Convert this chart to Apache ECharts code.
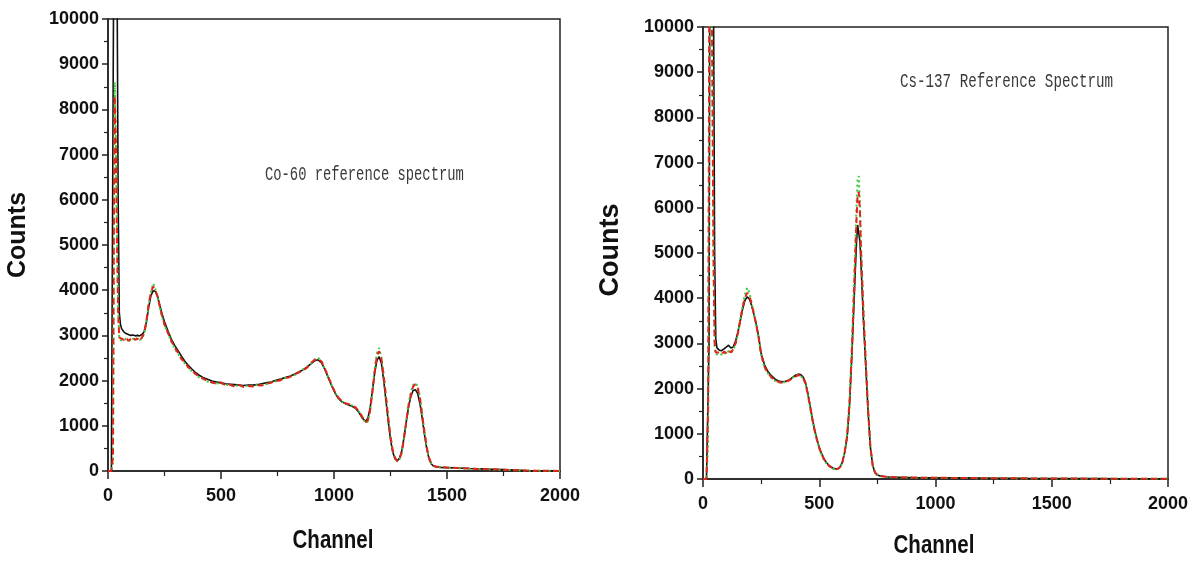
<!DOCTYPE html>
<html>
<head>
<meta charset="utf-8">
<script src="https://cdn.jsdelivr.net/npm/echarts@6/dist/echarts.min.js"></script>
<style>
html,body{margin:0;padding:0;background:#fff;}
#chart{width:1197px;height:563px;}
</style>
</head>
<body>
<div id="chart"></div>
<script>
// ---------- Co-60 reference spectrum (left panel) ----------
const coChannels = [
  0, 15, 22, 26, 30, 35, 40, 45, 50, 55,
  60, 70, 80, 90, 100, 110, 120, 130, 140, 150,
  160, 170, 180, 190, 200, 210, 220, 230, 240, 250,
  265, 280, 295, 310, 325, 340, 355, 370, 385, 400,
  420, 440, 460, 480, 500, 520, 540, 560, 580, 600,
  620, 640, 660, 680, 700, 720, 740, 760, 780, 800,
  820, 840, 860, 880, 900, 915, 930, 945, 960, 975,
  990, 1005, 1020, 1035, 1050, 1065, 1080, 1095, 1110, 1125,
  1140, 1150, 1160, 1170, 1180, 1190, 1200, 1210, 1220, 1230,
  1240, 1250, 1260, 1270, 1280, 1290, 1300, 1310, 1320, 1330,
  1340, 1350, 1360, 1370, 1380, 1390, 1400, 1410, 1420, 1430,
  1440, 1450, 1470, 1500, 1550, 1600, 1650, 1700, 1750, 1800,
  1850, 1900, 1950, 2000
];
const coBlack = [
  0, 0, 0, 12000, 16000, 15000, 11000, 6000, 3500, 3250,
  3150, 3080, 3040, 3020, 3000, 3010, 2990, 3000, 2990, 3020,
  3080, 3300, 3620, 3880, 3990, 3970, 3850, 3650, 3460, 3300,
  3100, 2920, 2780, 2660, 2540, 2430, 2340, 2260, 2190, 2130,
  2070, 2030, 1990, 1970, 1950, 1930, 1920, 1910, 1900, 1890,
  1900, 1900, 1910, 1930, 1950, 1970, 2000, 2030, 2060, 2090,
  2130, 2180, 2230, 2300, 2380, 2440, 2460, 2390, 2240, 2060,
  1880, 1720, 1600, 1530, 1490, 1460, 1430, 1390, 1300, 1170,
  1100, 1170, 1400, 1780, 2170, 2450, 2530, 2380, 2000, 1550,
  1100, 700, 420, 270, 230, 280, 450, 750, 1100, 1420,
  1650, 1780, 1800, 1720, 1500, 1180, 820, 500, 280, 160,
  110, 95, 80, 75, 65, 55, 48, 40, 30, 20,
  8, 5, 3, 2
];
const coRed = [
  0, 0, 300, 5500, 8300, 7200, 5000, 3500, 2950, 2920,
  2930, 2900, 2950, 2880, 2920, 2960, 2900, 2930, 2880, 2950,
  3050, 3320, 3700, 3950, 4080, 4000, 3850, 3620, 3420, 3240,
  3060, 2880, 2730, 2620, 2480, 2400, 2300, 2220, 2160, 2090,
  2050, 1990, 1960, 1930, 1960, 1900, 1910, 1870, 1900, 1860,
  1880, 1870, 1900, 1890, 1930, 1950, 1990, 2000, 2060, 2070,
  2120, 2170, 2220, 2280, 2400, 2460, 2480, 2420, 2260, 2080,
  1900, 1740, 1620, 1550, 1500, 1480, 1440, 1410, 1330, 1200,
  1080, 1120, 1350, 1750, 2200, 2550, 2650, 2480, 2100, 1650,
  1180, 760, 450, 290, 220, 260, 420, 730, 1100, 1450,
  1700, 1870, 1920, 1850, 1620, 1250, 880, 540, 300, 170,
  120, 100, 85, 75, 65, 55, 45, 38, 28, 18,
  10, 6, 4, 2
];
const coGreen = [
  0, 0, 200, 5000, 8600, 7300, 5100, 3600, 2950, 2900,
  2900, 2880, 2930, 2900, 2870, 2930, 2890, 2950, 2900, 2930,
  3030, 3280, 3680, 3960, 4150, 4020, 3820, 3600, 3400, 3220,
  3050, 2860, 2710, 2600, 2470, 2380, 2290, 2210, 2150, 2080,
  2040, 1980, 1950, 1940, 1930, 1920, 1880, 1900, 1880, 1870,
  1890, 1880, 1910, 1900, 1920, 1960, 1980, 2020, 2050, 2090,
  2110, 2160, 2240, 2300, 2390, 2470, 2500, 2430, 2250, 2070,
  1890, 1730, 1610, 1540, 1500, 1470, 1450, 1400, 1320, 1180,
  1060, 1100, 1330, 1780, 2250, 2620, 2720, 2500, 2100, 1620,
  1150, 740, 440, 280, 210, 250, 420, 740, 1120, 1480,
  1740, 1900, 1950, 1880, 1640, 1260, 870, 530, 290, 160,
  115, 95, 82, 72, 62, 52, 44, 36, 26, 16,
  9, 5, 3, 2
];

// ---------- Cs-137 reference spectrum (right panel) ----------
const csChannels = [
  0, 15, 22, 26, 30, 35, 40, 45, 50, 55,
  60, 70, 80, 90, 100, 110, 120, 130, 140, 150,
  160, 170, 180, 190, 200, 210, 220, 230, 240, 250,
  265, 280, 295, 310, 325, 340, 355, 370, 385, 400,
  410, 420, 430, 440, 450, 460, 470, 480, 490, 500,
  510, 520, 530, 540, 550, 560, 570, 580, 590, 600,
  610, 620, 630, 640, 650, 655, 660, 665, 670, 675,
  680, 690, 700, 710, 720, 730, 740, 750, 760, 780,
  800, 850, 900, 1000, 1100, 1200, 1300, 1400, 1500, 1600,
  1700, 1800, 1900, 2000
];
const csBlack = [
  0, 0, 0, 3000, 13000, 16000, 15000, 11000, 5000, 3100,
  2900, 2850, 2840, 2880, 2920, 2960, 2900, 2920, 3050, 3250,
  3500, 3750, 3950, 4030, 3980, 3820, 3620, 3400, 3130, 2780,
  2520, 2370, 2280, 2210, 2170, 2150, 2160, 2190, 2250, 2300,
  2320, 2310, 2260, 2150, 1920, 1640, 1350, 1090, 880, 700,
  560, 450, 370, 310, 270, 240, 225, 230, 270, 380,
  600, 930, 1600, 2700, 3950, 4600, 5200, 5620, 5600, 5250,
  4700, 3500, 2500, 1500, 700, 300, 140, 90, 70, 55,
  45, 38, 32, 28, 24, 20, 17, 14, 12, 10,
  8, 6, 5, 4
];
const csRed = [
  0, 0, 1500, 9000, 14000, 13000, 9000, 5000, 3000, 2800,
  2780, 2800, 2760, 2820, 2790, 2850, 2800, 2870, 3000, 3220,
  3500, 3780, 4000, 4120, 4050, 3850, 3630, 3390, 3100, 2760,
  2480, 2340, 2250, 2180, 2150, 2130, 2150, 2180, 2230, 2270,
  2300, 2290, 2240, 2130, 1900, 1620, 1330, 1080, 870, 690,
  550, 440, 360, 300, 260, 230, 215, 225, 265, 380,
  620, 960, 1680, 2800, 4200, 4950, 5700, 6300, 6350, 5900,
  5000, 3700, 2600, 1550, 720, 300, 140, 90, 70, 55,
  45, 38, 32, 27, 23, 19, 16, 13, 11, 9,
  7, 5, 4, 3
];
const csGreen = [
  0, 0, 800, 7000, 14000, 13500, 9500, 5000, 2900, 2750,
  2720, 2780, 2750, 2800, 2760, 2830, 2790, 2850, 2980, 3200,
  3520, 3820, 4080, 4230, 4120, 3880, 3640, 3380, 3080, 2740,
  2460, 2330, 2230, 2170, 2140, 2120, 2160, 2200, 2240, 2280,
  2310, 2280, 2230, 2120, 1880, 1600, 1320, 1070, 860, 680,
  540, 430, 350, 295, 255, 225, 210, 220, 260, 370,
  610, 980, 1720, 2900, 4400, 5200, 6000, 6650, 6700, 6100,
  5100, 3750, 2600, 1550, 700, 290, 135, 85, 65, 50,
  42, 36, 30, 26, 22, 18, 15, 12, 10, 8,
  6, 5, 4, 3
];

const xTicks = [0, 500, 1000, 1500, 2000];
const yTicks = [0, 1000, 2000, 3000, 4000, 5000, 6000, 7000, 8000, 9000, 10000];

const zip = (xs, ys) => xs.map((x, i) => [x, ys[i]]);

const tickFont = { fontFamily: '"Liberation Sans", Arial, sans-serif', fontWeight: 'bold', fontSize: 18, color: '#111', formatter: v => String(v) };
const axisLineStyle = { color: '#222', width: 1.5 };

function xAxisFor(gi) {
  return {
    gridIndex: gi, type: 'value', min: xTicks[0], max: xTicks[xTicks.length - 1], interval: 500,
    axisLine: { show: true, onZero: false, lineStyle: axisLineStyle },
    axisTick: { show: true, length: 8, lineStyle: axisLineStyle },
    minorTick: { show: true, splitNumber: 2, length: 5, lineStyle: { color: '#222', width: 1.2 } },
    axisLabel: Object.assign({ margin: 16 }, tickFont),
    splitLine: { show: false }
  };
}
function yAxisFor(gi) {
  return {
    gridIndex: gi, type: 'value', min: yTicks[0], max: yTicks[yTicks.length - 1], interval: 1000,
    axisLine: { show: true, onZero: false, lineStyle: axisLineStyle },
    axisTick: { show: true, length: 6, lineStyle: axisLineStyle },
    minorTick: { show: true, splitNumber: 2, length: 4, lineStyle: { color: '#222', width: 1.2 } },
    axisLabel: Object.assign({ margin: 9 }, tickFont),
    splitLine: { show: false }
  };
}
function lineSeries(gi, xs, ys, kind) {
  const styles = {
    black: { color: '#111', width: 1.6, type: 'solid' },
    green: { color: '#3cc83c', width: 2, type: [2, 3] },
    red:   { color: '#e3241b', width: 2, type: [6, 4] }
  };
  return {
    type: 'line', xAxisIndex: gi, yAxisIndex: gi,
    data: zip(xs, ys), showSymbol: false, symbol: 'none', smooth: false,
    lineStyle: styles[kind], itemStyle: { color: styles[kind].color },
    animation: false, clip: true
  };
}

const chart = echarts.init(document.getElementById('chart'), null, { renderer: 'canvas' });
const nameFont = '"Liberation Sans", Arial, sans-serif';
chart.setOption({
  animation: false,
  backgroundColor: '#fff',
  grid: [
    { left: 108, top: 19, width: 452, height: 452, show: true, borderColor: '#222', borderWidth: 1.5, backgroundColor: 'transparent' },
    { left: 703, top: 27, width: 465, height: 452, show: true, borderColor: '#222', borderWidth: 1.5, backgroundColor: 'transparent' }
  ],
  xAxis: [xAxisFor(0), xAxisFor(1)],
  yAxis: [yAxisFor(0), yAxisFor(1)],
  series: [
    lineSeries(0, coChannels, coBlack, 'black'),
    lineSeries(0, coChannels, coGreen, 'green'),
    lineSeries(0, coChannels, coRed, 'red'),
    lineSeries(1, csChannels, csBlack, 'black'),
    lineSeries(1, csChannels, csGreen, 'green'),
    lineSeries(1, csChannels, csRed, 'red')
  ],
  graphic: [
    { type: 'text', x: 18, y: 235, rotation: Math.PI / 2,
      style: { text: 'Counts', fill: '#111', align: 'center', verticalAlign: 'middle', font: 'bold 25px "Liberation Sans", Arial, sans-serif' } },
    { type: 'text', x: 611, y: 250, rotation: Math.PI / 2,
      style: { text: 'Counts', fill: '#111', align: 'center', verticalAlign: 'middle', font: 'bold 27px "Liberation Sans", Arial, sans-serif' } },
    { type: 'text', x: 333, y: 541, scaleX: 0.82,
      style: { text: 'Channel', fill: '#111', align: 'center', verticalAlign: 'middle', font: 'bold 25px ' + nameFont } },
    { type: 'text', x: 934, y: 546, scaleX: 0.82,
      style: { text: 'Channel', fill: '#111', align: 'center', verticalAlign: 'middle', font: 'bold 25px ' + nameFont } },
    { type: 'text', x: 265, y: 175, scaleX: 0.69,
      style: { text: 'Co-60 reference spectrum', fill: '#3a3a3a', align: 'left', verticalAlign: 'middle', font: '20px "Liberation Mono", "DejaVu Sans Mono", monospace' } },
    { type: 'text', x: 900, y: 82, scaleX: 0.71,
      style: { text: 'Cs-137 Reference Spectrum', fill: '#3a3a3a', align: 'left', verticalAlign: 'middle', font: '20px "Liberation Mono", "DejaVu Sans Mono", monospace' } }
  ]
});
</script>
</body>
</html>
